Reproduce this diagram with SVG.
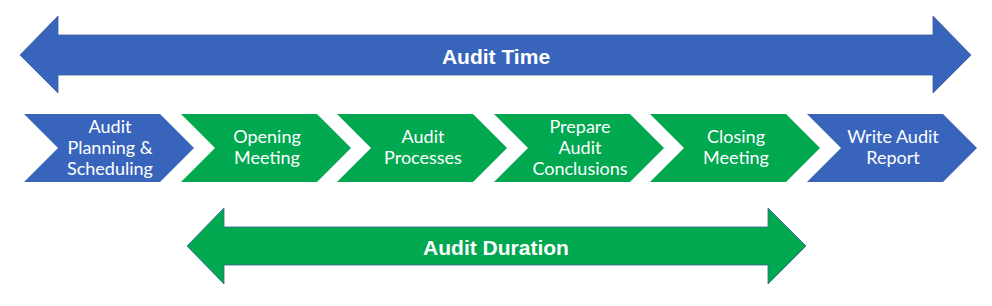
<svg xmlns="http://www.w3.org/2000/svg" width="992" height="306" viewBox="0 0 992 306">
<style>
.blue{fill:#3865bb}
.green{fill:#00a84f}
.outline{stroke:#3b5f9a;stroke-width:0.8}
.lbl{font-family:Lato,"Liberation Sans",sans-serif;font-size:18px;fill:#fff;text-anchor:middle}
.big{font-family:"Liberation Sans",Arial,sans-serif;font-size:21px;font-weight:bold;fill:#fff;text-anchor:middle}
</style>
<rect width="992" height="306" fill="#fff"/>
<g id="connectors">
<g id="audit-time">
<polygon class="blue outline" points="20,55 58,16 58,35 933,35 933,16 971,55 933,93 933,75 58,75 58,93"/>
<text class="big" x="496" y="64">Audit Time</text>
</g>
<g id="audit-duration">
<polygon class="green outline" points="187,246 224,208 224,227 768,227 768,208 806,246 768,284 768,265 224,265 224,284"/>
<text class="big" x="496" y="255">Audit Duration</text>
</g>
</g>
<g id="step1">
<path class="blue" d="M24,114 L160,114 L194,148 L160,182 L24,182 L58,148 Z"/>
<text class="lbl"><tspan x="110" y="133">Audit</tspan><tspan x="110" y="154">Planning &amp;</tspan><tspan x="110" y="175">Scheduling</tspan></text>
</g>
<g id="step2">
<path class="green" d="M181,114 L317,114 L351,148 L317,182 L181,182 L215,148 Z"/>
<text class="lbl"><tspan x="267" y="143">Opening</tspan><tspan x="267" y="164">Meeting</tspan></text>
</g>
<g id="step3">
<path class="green" d="M337,114 L473,114 L507,148 L473,182 L337,182 L371,148 Z"/>
<text class="lbl"><tspan x="423" y="143">Audit</tspan><tspan x="423" y="164">Processes</tspan></text>
</g>
<g id="step4">
<path class="green" d="M494,114 L630,114 L664,148 L630,182 L494,182 L528,148 Z"/>
<text class="lbl"><tspan x="580" y="133">Prepare</tspan><tspan x="580" y="154">Audit</tspan><tspan x="580" y="175">Conclusions</tspan></text>
</g>
<g id="step5">
<path class="green" d="M650,114 L786,114 L820,148 L786,182 L650,182 L684,148 Z"/>
<text class="lbl"><tspan x="736" y="143">Closing</tspan><tspan x="736" y="164">Meeting</tspan></text>
</g>
<g id="step6">
<path class="blue" d="M807,114 L943,114 L977,148 L943,182 L807,182 L841,148 Z"/>
<text class="lbl"><tspan x="893" y="143">Write Audit</tspan><tspan x="893" y="164">Report</tspan></text>
</g>
</svg>
